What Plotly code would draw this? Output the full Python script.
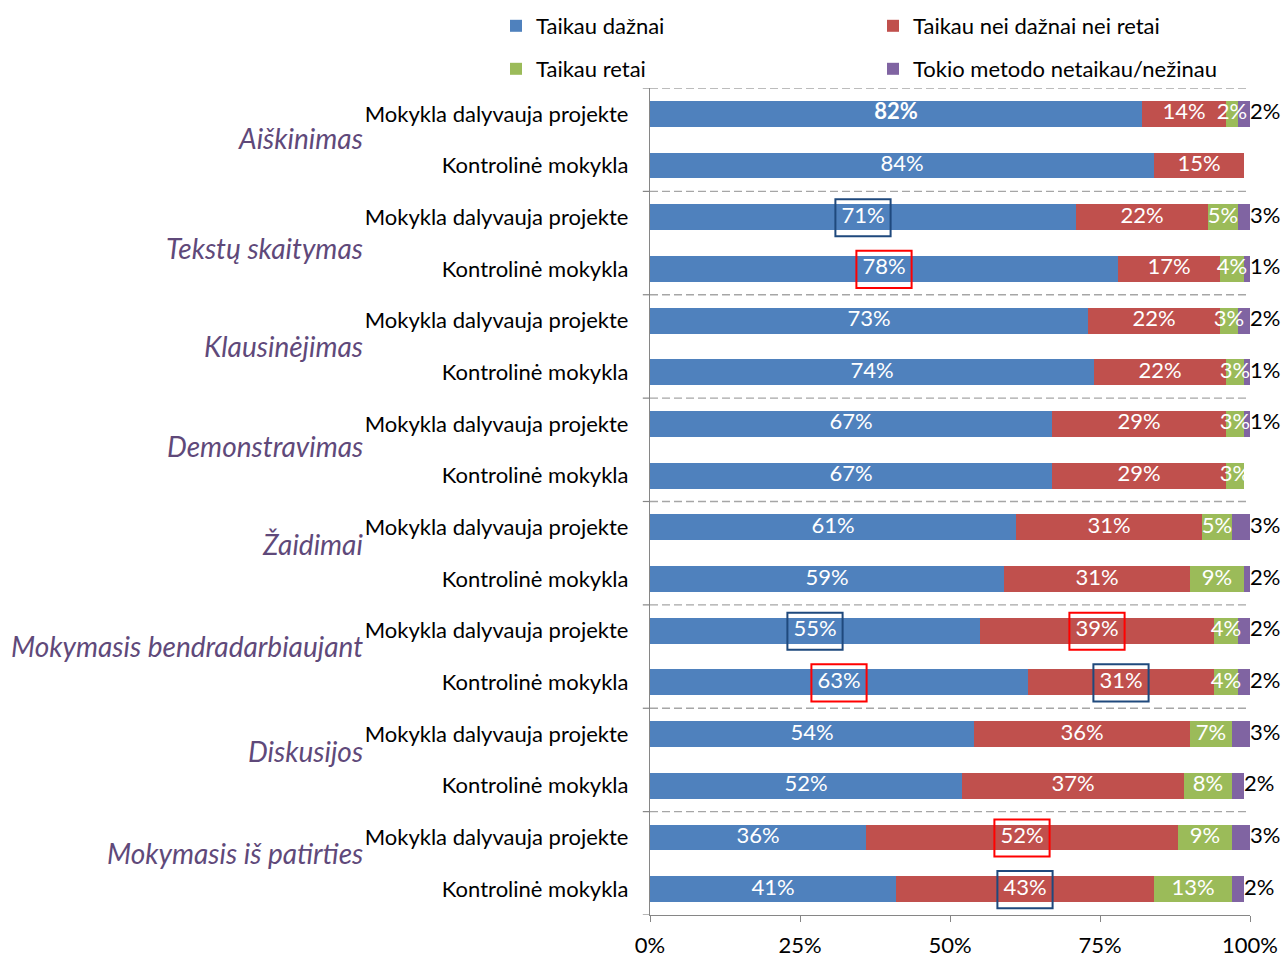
import plotly.graph_objects as go

# --- data -------------------------------------------------------------
groups = ["Aiškinimas", "Tekstų skaitymas", "Klausinėjimas", "Demonstravimas",
          "Žaidimai", "Mokymasis bendradarbiaujant", "Diskusijos",
          "Mokymasis iš patirties"]
school_types = ["Mokykla dalyvauja projekte", "Kontrolinė mokykla"]
series_names = ["Taikau dažnai", "Taikau nei dažnai nei retai",
                "Taikau retai", "Tokio metodo netaikau/nežinau"]

often = [82, 84, 71, 78, 73, 74, 67, 67, 61, 59, 55, 63, 54, 52, 36, 41]
sometimes = [14, 15, 22, 17, 22, 22, 29, 29, 31, 31, 39, 31, 36, 37, 52, 43]
rarely = [2, 0, 5, 4, 3, 3, 3, 3, 5, 9, 4, 4, 7, 8, 9, 13]
never = [2, 0, 3, 1, 2, 1, 1, 0, 3, 2, 2, 2, 3, 2, 3, 2]

x_ticks = [0, 25, 50, 75, 100]
x_tick_labels = ["0%", "25%", "50%", "75%", "100%"]

# --- styling ----------------------------------------------------------
FONT = "Lato"
TEXT_SIZE = 22
colors = ["#4f81bd", "#c0504d", "#9bbb59", "#8064a2"]
BOX_RED = "#ff0000"
BOX_BLUE = "#1f497d"
AXIS_GRAY = "#868686"
GROUP_COLOR = "#5f497a"
# vertical placement (in row units) of the italic group titles
group_label_y = [0.46, 2.60, 4.50, 6.42, 8.33, 10.30, 12.32, 14.31]
# (row, series, outline colour) of the framed value labels
highlights = [(2, 0, BOX_BLUE), (3, 0, BOX_RED), (10, 0, BOX_BLUE),
              (10, 1, BOX_RED), (11, 0, BOX_RED), (11, 1, BOX_BLUE),
              (14, 1, BOX_RED), (15, 1, BOX_BLUE)]
bold_labels = {(0, 0)}

series = [often, sometimes, rarely, never]
n_rows = len(often)
rows = list(range(n_rows))
row_labels = [school_types[i % 2] for i in rows]

fig = go.Figure()

legend_pos = [(496, 26), (873, 26), (496, 69), (873, 69)]
legend_ids = ["legend", "legend2", "legend3", "legend4"]

for s, (vals, name) in enumerate(zip(series, series_names)):
    fig.add_trace(go.Bar(
        y=rows, x=vals, orientation="h", name=name,
        marker=dict(color=colors[s], line=dict(width=0)),
        textposition="none", legend=legend_ids[s], hoverinfo="skip",
    ))

# value labels drawn above all bars so narrow segments can overflow
for s in range(3):
    mids, text = [], []
    for r in rows:
        start = sum(series[k][r] for k in range(s))
        v = series[s][r]
        mids.append(start + v / 2)
        if v == 0:
            text.append("")
        elif (r, s) in bold_labels:
            text.append(f"<b>{v}%</b>")
        else:
            text.append(f"{v}%")
    fig.add_trace(go.Scatter(
        x=mids, y=rows, mode="text", text=text, textposition="middle center",
        textfont=dict(family=FONT, size=TEXT_SIZE, color="white"),
        cliponaxis=False, showlegend=False, hoverinfo="skip",
    ))

# labels of the last segment sit just past the end of each bar
totals = [min(sum(col), 100) for col in zip(*series)]
fig.add_trace(go.Scatter(
    x=totals, y=rows, mode="text",
    text=[f"{v}%" if v else "" for v in never],
    textposition="middle right",
    textfont=dict(family=FONT, size=TEXT_SIZE, color="black"),
    cliponaxis=False, showlegend=False, hoverinfo="skip",
))

shapes = []
# group separators: short solid tick left of the axis and a dashed line
for b in range(0, n_rows + 1, 2):
    yb = b - 0.5
    shapes.append(dict(type="line", xref="paper", yref="y", x0=-0.012, x1=0,
                       y0=yb, y1=yb, line=dict(color=AXIS_GRAY, width=1.2)))
    if b < n_rows:
        shapes.append(dict(type="line", xref="paper", yref="y", x0=0, x1=1,
                           y0=yb, y1=yb,
                           line=dict(color="#a6a6a6", width=1.3, dash="8px,4px")))

# frames around selected value labels
for r, s, c in highlights:
    start = sum(series[k][r] for k in range(s))
    mid = start + series[s][r] / 2
    shapes.append(dict(type="rect", xref="x", yref="y",
                       x0=mid - 4.6, x1=mid + 4.6, y0=r - 0.35, y1=r + 0.37,
                       line=dict(color=c, width=2), fillcolor="rgba(0,0,0,0)"))

annotations = []
for name, gy in zip(groups, group_label_y):
    annotations.append(dict(
        text=f"<i>{name}</i>", xref="paper", yref="y",
        x=(365 - 650) / 600, y=gy, xanchor="right", yanchor="middle",
        showarrow=False, font=dict(family=FONT, size=28, color=GROUP_COLOR),
    ))

layout_legends = {}
for lid, (px, py) in zip(legend_ids, legend_pos):
    layout_legends[lid] = dict(
        xref="container", yref="container", x=px / 1285, y=1 - py / 956,
        xanchor="left", yanchor="middle", bgcolor="rgba(0,0,0,0)",
        font=dict(family=FONT, size=TEXT_SIZE, color="black"),
        itemwidth=30, tracegroupgap=0,
    )

fig.update_layout(
    width=1285, height=956,
    margin=dict(l=650, r=35, t=88, b=41, autoexpand=False),
    paper_bgcolor="white", plot_bgcolor="white",
    barmode="stack", bargap=0.5,
    showlegend=True,
    shapes=shapes, annotations=annotations,
    font=dict(family=FONT, size=TEXT_SIZE, color="black"),
    xaxis=dict(range=[0, 100], tickvals=x_ticks, ticktext=x_tick_labels,
               showgrid=False, zeroline=False, showline=True,
               linecolor=AXIS_GRAY, linewidth=1.2, ticks="outside",
               ticklen=6, tickcolor=AXIS_GRAY, tickwidth=1.2,
               ticklabelstandoff=4,
               tickfont=dict(family=FONT, size=TEXT_SIZE, color="black"),
               automargin=False, fixedrange=True),
    yaxis=dict(range=[n_rows - 0.5, -0.5], tickvals=rows, ticktext=row_labels,
               showgrid=False, zeroline=False, showline=True,
               linecolor=AXIS_GRAY, linewidth=1.2, ticks="",
               ticklabelstandoff=16,
               tickfont=dict(family=FONT, size=TEXT_SIZE, color="black"),
               automargin=False, fixedrange=True),
    **layout_legends,
)

fig.write_html("out.html")
